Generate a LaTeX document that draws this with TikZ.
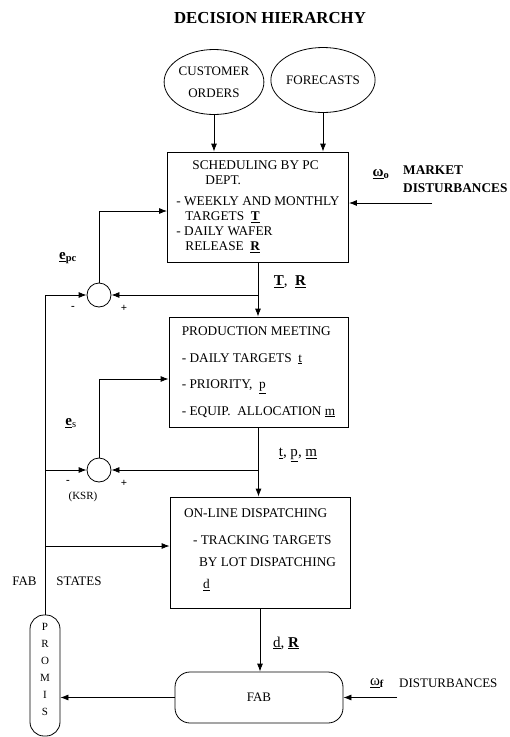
\documentclass[tikz,border=0pt]{standalone}
\usepackage{fontspec}
\setmainfont{Liberation Serif}
\usetikzlibrary{shapes.geometric, calc}
\usetikzlibrary{arrows.meta}

\newcommand{\ul}[1]{\underline{#1}}

\tikzset{
    blk/.style={draw, line width=0.8pt, inner sep=0pt},
    txt/.style={align=left, inner sep=0pt, font=\fontsize{13.3}{15}\selectfont},
    oval/.style={draw, ellipse, line width=0.8pt, minimum width=98pt, minimum height=65pt,
        inner sep=0pt, align=center, font=\fontsize{13}{22}\selectfont},
    sum/.style={draw, circle, line width=0.8pt, minimum size=24pt, inner sep=0pt},
    lbl/.style={inner sep=0pt, font=\fontsize{13}{15}\selectfont},
    sym/.style={inner sep=0pt, font=\fontsize{15}{17}\selectfont},
    sign/.style={inner sep=0pt, font=\fontsize{11}{13}\selectfont\bfseries},
    arr/.style={-{Latex[length=8pt,width=6pt]}, line width=0.8pt},
}

\begin{document}
\begin{tikzpicture}[x=1pt, y=-1pt]
    \useasboundingbox (0,0) rectangle (510,737);

    \node[font=\fontsize{16.8}{18}\selectfont\bfseries] (title) at (270,18) {DECISION HIERARCHY};

    \node[oval] (orders) at (214,82) {CUSTOMER\\ORDERS};
    \node[oval] (fcast) at (323,80) {FORECASTS};

    \node[blk, minimum width=181pt, minimum height=110pt] (sched) at (258,207) {};
    \node[txt] (sched-txt) at (sched.center) {\hspace*{16pt}SCHEDULING BY PC\\
        \hspace*{29pt}DEPT.\\[6pt]
        - WEEKLY AND MONTHLY\\
        \hspace*{9pt}TARGETS\enspace\textbf{\ul{T}}\\
        - DAILY WAFER\\
        \hspace*{9pt}RELEASE\enspace\textbf{\ul{R}}};

    \node[blk, minimum width=179pt, minimum height=110pt] (prod) at (258.5,372) {};
    \node[txt, font=\fontsize{13.3}{26.5}\selectfont] (prod-txt) at (prod.center) {PRODUCTION MEETING\\
        - DAILY TARGETS\enspace\ul{t}\\
        - PRIORITY,\enspace\ul{p}\\
        - EQUIP.\enspace ALLOCATION \ul{m}};

    \node[blk, minimum width=180pt, minimum height=111pt] (disp) at (260,552.5) {};
    \node[txt, font=\fontsize{13.3}{22}\selectfont] (disp-txt) at ([yshift=3pt]disp.center) {ON-LINE DISPATCHING\\[5pt]
        \hspace*{9pt}- TRACKING TARGETS\\
        \hspace*{15pt}BY LOT DISPATCHING\\
        \hspace*{19pt}\ul{d}};

    \node[blk, rounded corners=15pt, minimum width=168pt, minimum height=51pt,
        font=\fontsize{13}{15}\selectfont] (fab) at (259,697.5) {FAB};

    \node[blk, rounded corners=14pt, minimum width=30pt, minimum height=121pt] (promis) at (45,675.5) {};
    \node[align=center, inner sep=0pt, font=\fontsize{11}{17}\selectfont] (promis-txt)
        at ([yshift=6pt]promis.center) {P\\R\\O\\M\\I\\S};

    \node[sum] (sum1) at (99,295) {};
    \node[sum] (sum2) at (99,470) {};

    \node[sign] (minus1) at (73,308) {-};
    \node[sign] (plus1) at (124,308) {+};
    \node[sign] (minus2) at (68,482) {-};
    \node[sign] (plus2) at (124,483) {+};

    \node[sym] (epc) at (68,258) {\textbf{\ul{e}}\textsubscript{\textbf{pc}}};
    \node[sym] (es) at (71,423) {\textbf{\ul{e}}\textsubscript{s}};
    \node[lbl, font=\fontsize{11}{13}\selectfont] (ksr) at (83,497) {(KSR)};
    \node[sym] (tr) at (290,282) {\textbf{\ul{T}},\enspace\textbf{\ul{R}}};
    \node[sym] (tpm) at (298,455) {\ul{t}, \ul{p}, \ul{m}};
    \node[sym] (dr) at (286,643) {\ul{d}, \textbf{\ul{R}}};
    \node[lbl] (fab-lbl) at (24.5,581) {FAB};
    \node[lbl] (states-lbl) at (79,581) {STATES};

    \node[sym] (omega-o) at (381,174) {\textbf{\ul{ω}}\textsubscript{\textbf{o}}};
    \node[lbl, anchor=west, align=left, font=\fontsize{13.3}{18}\selectfont\bfseries] (mkt-txt)
        at (403,179) {MARKET\\DISTURBANCES};
    \node[sym] (omega-f) at (377,683) {\ul{ω}\textsubscript{\textbf{f}}};
    \node[lbl, anchor=west] (dist-txt) at (399,683) {DISTURBANCES};

    \coordinate (mkt) at (432,203);
    \coordinate (dist) at (397,697.5);
    \coordinate (disp-in) at ([yshift=6.5pt]disp.west);

    \draw[arr] (orders.south) -- (orders.south |- sched.north);
    \draw[arr] (fcast.south) -- (fcast.south |- sched.north);
    \draw[arr] (mkt) -- (mkt -| sched.east);

    \draw[arr] (sched.south) -- (sched.south |- prod.north);
    \draw[arr] (sum1 -| sched.south) -- (sum1.east);
    \draw[arr] (sum1.north) |- ([yshift=-4pt]sched.west);

    \draw[arr] (prod.south) -- (prod.south |- disp.north);
    \draw[arr] (sum2 -| prod.south) -- (sum2.east);
    \draw[arr] (sum2.north) |- ([yshift=-7pt]prod.west);

    \draw[arr] (disp.south) -- (disp.south |- fab.north);
    \draw[arr] (dist) -- (fab.east);
    \draw[arr] (fab.west) -- (fab.west -| promis.east);

    \draw[arr] (promis.north) |- (sum1.west);
    \draw[arr] (promis.north |- sum2.west) -- (sum2.west);
    \draw[arr] (promis.north |- disp-in) -- (disp-in);
\end{tikzpicture}
\end{document}
